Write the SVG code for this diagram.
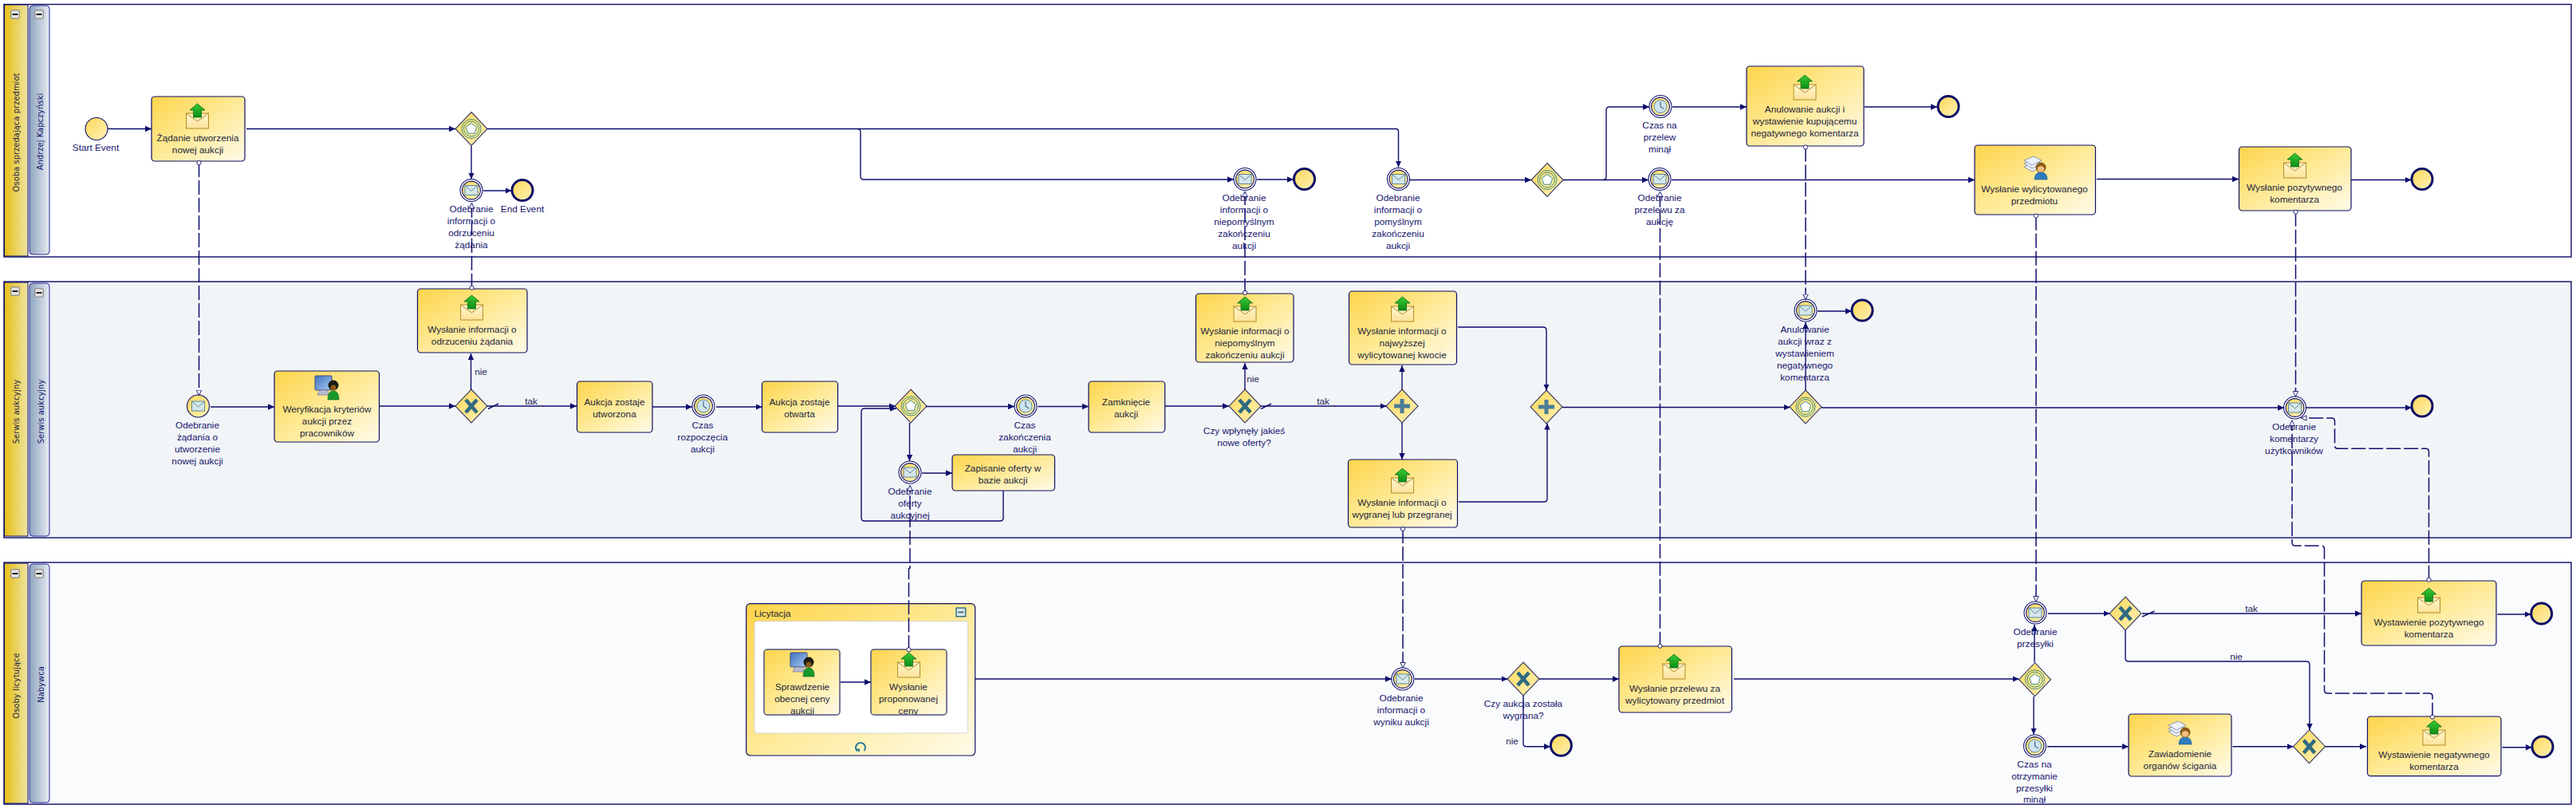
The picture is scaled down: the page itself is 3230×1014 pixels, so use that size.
<svg xmlns="http://www.w3.org/2000/svg" width="3230" height="1014" viewBox="0 0 3230 1014">
<style>
text{font-family:"Liberation Sans",Arial,sans-serif;font-size:11.8px;text-anchor:middle;dominant-baseline:central}
.t{fill:#24243c}.l{fill:#14146e}.f{fill:#24245a}
.h{font-family:"DejaVu Sans",Verdana,sans-serif;font-size:10px}
.pool{stroke:#0a0a66;stroke-width:1.4}
.ps{fill:url(#goldH);stroke:#0a0a66;stroke-width:1}
.ls{fill:url(#blueH);stroke:#2a2a9a;stroke-width:1}
.task{fill:url(#gold);stroke:#0f0f66;stroke-width:1.2}
.small{fill:url(#gold);stroke:#50507e;stroke-width:1.5}
.ev{fill:url(#gwf);stroke:#12126e;stroke-width:1.1}
.evo{fill:#fff;stroke:#12126e;stroke-width:1.1}
.end{fill:url(#gwf);stroke:#0c0c66;stroke-width:3}
.gw{fill:url(#gwf);stroke:#3c3c6c;stroke-width:1.1}
.sq{fill:none;stroke:#0e0e6e;stroke-width:1.4;marker-end:url(#arr)}
.sl{fill:none;stroke:#0e0e6e;stroke-width:1.4}
.ms{fill:none;stroke:#0e0e6e;stroke-width:1.5;stroke-dasharray:18 4;marker-start:url(#dot);marker-end:url(#tri)}
</style>
<defs>
<linearGradient id="gold" x1="0" y1="0" x2="1" y2="1"><stop offset="0" stop-color="#fdd44a"/><stop offset=".45" stop-color="#fee88f"/><stop offset="1" stop-color="#fffbea"/></linearGradient>
<linearGradient id="gwf" x1="0" y1="0" x2="1" y2="1"><stop offset="0" stop-color="#fdd858"/><stop offset="1" stop-color="#fff2b8"/></linearGradient>
<linearGradient id="goldH" x1="0" y1="0" x2="1" y2="0"><stop offset="0" stop-color="#e6bf14"/><stop offset="1" stop-color="#efe4a4"/></linearGradient>
<linearGradient id="blueH" x1="0" y1="0" x2="1" y2="0"><stop offset="0" stop-color="#8ea4bf"/><stop offset="1" stop-color="#e6ebf1"/></linearGradient>
<linearGradient id="env" x1="0" y1="0" x2="0" y2="1"><stop offset="0" stop-color="#fff6d0"/><stop offset="1" stop-color="#fde29a"/></linearGradient>
<linearGradient id="grn" x1="0" y1="0" x2="0" y2="1"><stop offset="0" stop-color="#39c939"/><stop offset="1" stop-color="#0c8f14"/></linearGradient>
<linearGradient id="scr" x1="0" y1="0" x2="1" y2="1"><stop offset="0" stop-color="#3f6fc0"/><stop offset="1" stop-color="#a9cdf2"/></linearGradient>
<marker id="arr" markerUnits="userSpaceOnUse" markerWidth="10" markerHeight="10" refX="8" refY="4.5" orient="auto"><path d="M0 0.8L8 4.5L0 8.2Z" fill="#0e0e6e"/></marker>
<marker id="tri" markerUnits="userSpaceOnUse" markerWidth="10" markerHeight="10" refX="7" refY="4" orient="auto"><path d="M0.5 0.8L7 4L0.5 7.2Z" fill="#fff" stroke="#0e0e6e" stroke-width=".9"/></marker>
<marker id="dot" markerUnits="userSpaceOnUse" markerWidth="8" markerHeight="8" refX="4" refY="4" orient="auto"><circle cx="4" cy="4" r="2.6" fill="#fff" stroke="#0e0e6e" stroke-width=".9"/></marker>
<g id="em"><circle r="14" class="evo"/><circle r="11.4" class="ev"/><rect x="-8" y="-6" width="16" height="12" fill="#d5e6ea" stroke="#5d8a98"/><path d="M-8-6L0 1L8-6" fill="none" stroke="#5d8a98"/></g>
<g id="et"><circle r="14" class="evo"/><circle r="11.4" class="ev"/><circle r="8" fill="#cfe3ef" stroke="#5d8a98"/><path d="M0-6V0L4 3" fill="none" stroke="#3f6f80" stroke-width="1.2"/></g>
<g id="ge"><path d="M0-21L20 0L0 21L-20 0Z" class="gw"/><circle r="12" fill="none" stroke="#3d8d80"/><circle r="9.5" fill="none" stroke="#3d8d80"/><path d="M0-7L6.7-2.2L4.1 5.7H-4.1L-6.7-2.2Z" fill="#fff" stroke="#3d8d96"/></g>
<g id="gx"><path d="M0-21L20 0L0 21L-20 0Z" class="gw"/><path d="M-7-8L7 8M7-8L-7 8" stroke="#2f6a80" stroke-width="4.6" fill="none"/></g>
<g id="gp"><path d="M0-21L20 0L0 21L-20 0Z" class="gw"/><path d="M-10 0H10M0-9V9" stroke="#4a7d96" stroke-width="5" fill="none"/></g>
<g id="is"><rect x="-14" y="0" width="28" height="19" fill="url(#env)" stroke="#b48c28"/><path d="M-14 0L0 10L14 0" fill="none" stroke="#b48c28"/><path d="M0-12L9.5-4H5V5H-5V-4H-9.5Z" fill="url(#grn)" stroke="#0b6a10" stroke-width=".8"/></g>
<g id="ih"><rect x="-15" y="0" width="21" height="18" rx="1" fill="url(#scr)" stroke="#3c4c74"/><path d="M-9 18H0L3 24H-12Z" fill="#b8bcd0" stroke="#70708c" stroke-width=".7"/><circle cx="8" cy="12" r="6.5" fill="#1c1c14"/><ellipse cx="8" cy="15" rx="3.4" ry="3.6" fill="#8a5a18"/><path d="M1 30Q1 19 8 19Q15 19 15 30Z" fill="#169a2c" stroke="#0b5a18" stroke-width=".6"/></g>
<g id="iu"><g fill="#eef1fa" stroke="#7080a8" stroke-width=".8"><path d="M-14 14L-2 9L8 14L-4 20Z"/><path d="M-14 10L-2 5L8 10L-4 16Z"/><path d="M-14 6L-2 1L8 6L-4 12Z"/></g><circle cx="7" cy="15" r="6.5" fill="#8a5a18"/><ellipse cx="7" cy="17" rx="4.4" ry="4" fill="#f0bc7e"/><path d="M-1 30Q-1 21 7 21Q15 21 15 30Z" fill="#2d7cc2" stroke="#14507e" stroke-width=".6"/></g>
<g id="mn"><rect x="-5.2" y="-5.2" width="10.4" height="10.4" rx="1" fill="#e4e4e4" stroke="#777"/><rect x="-3.4" y="-1" width="6.8" height="2" fill="#222"/></g>
<clipPath id="cs"><rect x="950" y="814" width="250" height="82"/></clipPath>
</defs>

<g id="pool-sprzedajaca">
<rect x="5" y="5.5" width="3219" height="316.5" fill="#fff" class="pool"/>
<rect x="5.500" y="6" width="29.500" height="315" class="ps"/>
<rect x="37" y="7" width="25" height="312" rx="4" class="ls"/>
<use href="#mn" x="19" y="18"/><use href="#mn" x="49" y="18"/>
<text class="h l" transform="translate(20 166) rotate(-90)" style="fill:#24243c">Osoba sprzedająca przedmiot</text>
<text class="h l" transform="translate(50 165) rotate(-90)">Andrzej Kapczyński</text>
</g>
<g id="pool-serwis">
<rect x="5" y="353" width="3219" height="321" fill="#f2f5f7" class="pool"/>
<rect x="5.500" y="354" width="29.500" height="318" class="ps"/>
<rect x="37" y="355" width="25" height="317" rx="4" class="ls"/>
<use href="#mn" x="19" y="365"/><use href="#mn" x="49" y="367"/>
<text class="h l" transform="translate(20 516) rotate(-90)" style="fill:#24243c">Serwis aukcyjny</text>
<text class="h l" transform="translate(51 516) rotate(-90)">Serwis aukcyjny</text>
</g>
<g id="pool-licytujace">
<rect x="5" y="705" width="3219" height="303" fill="#fafbfc" class="pool"/>
<rect x="5.500" y="706" width="29.500" height="301" class="ps"/>
<rect x="37" y="707" width="25" height="299" rx="4" class="ls"/>
<use href="#mn" x="19" y="719"/><use href="#mn" x="49" y="719"/>
<text class="h l" transform="translate(20.500 859.500) rotate(-90)" style="fill:#24243c">Osoby licytujące</text>
<text class="h l" transform="translate(51 858) rotate(-90)">Nabywca</text>
</g>

<g id="start"><circle cx="121" cy="161.500" r="14" class="ev"/><text class="l" x="120" y="185">Start Event</text></g>
<g id="t-zadanie"><rect x="190" y="121" width="117" height="81" rx="4" class="task"/><use href="#is" x="247.500" y="142"/><text class="t"><tspan x="248" y="173">Żądanie utworzenia</tspan><tspan x="248" y="188">nowej aukcji</tspan></text></g>
<g id="g-1"><use href="#ge" x="591" y="161.500"/></g>
<g id="e-odrz"><use href="#em" x="591" y="238.500"/><text class="l"><tspan x="591" y="262">Odebranie</tspan><tspan x="591" y="277">informacji o</tspan><tspan x="591" y="292">odrzuceniu</tspan><tspan x="591" y="307">żądania</tspan></text></g>
<g id="end-1"><circle cx="655" cy="238.500" r="13" class="end"/><text class="l" x="655" y="262">End Event</text></g>
<g id="e-niepom"><use href="#em" x="1561" y="224.500"/><text class="l"><tspan x="1560" y="248">Odebranie</tspan><tspan x="1560" y="263">informacji o</tspan><tspan x="1560" y="278">niepomyślnym</tspan><tspan x="1560" y="293">zakończeniu</tspan><tspan x="1560" y="308">aukcji</tspan></text></g>
<g id="end-2"><circle cx="1635.500" cy="224.500" r="13" class="end"/></g>
<g id="e-pom"><use href="#em" x="1753.500" y="224.500"/><text class="l"><tspan x="1753" y="248">Odebranie</tspan><tspan x="1753" y="263">informacji o</tspan><tspan x="1753" y="278">pomyślnym</tspan><tspan x="1753" y="293">zakończeniu</tspan><tspan x="1753" y="308">aukcji</tspan></text></g>
<g id="g-2"><use href="#ge" x="1940" y="225.500"/></g>
<g id="e-czas-przelew"><use href="#et" x="2082" y="133.500"/><text class="l"><tspan x="2081" y="157">Czas na</tspan><tspan x="2081" y="172">przelew</tspan><tspan x="2081" y="187">minął</tspan></text></g>
<g id="e-przelew"><use href="#em" x="2081" y="224.500"/><text class="l"><tspan x="2081" y="248">Odebranie</tspan><tspan x="2081" y="263">przelewu za</tspan><tspan x="2081" y="278">aukcję</tspan></text></g>
<g id="t-anul"><rect x="2190" y="83" width="147" height="100" rx="4" class="task"/><use href="#is" x="2263" y="106"/><text class="t"><tspan x="2263" y="137">Anulowanie aukcji i</tspan><tspan x="2263" y="152">wystawienie kupującemu</tspan><tspan x="2263" y="167">negatywnego komentarza</tspan></text></g>
<g id="end-3"><circle cx="2443" cy="133.500" r="13" class="end"/></g>
<g id="t-wysl-przed"><rect x="2476" y="182" width="151.500" height="87" rx="4" class="task"/><use href="#iu" x="2552" y="195"/><text class="t"><tspan x="2551" y="237">Wysłanie wylicytowanego</tspan><tspan x="2551" y="252">przedmiotu</tspan></text></g>
<g id="t-wysl-poz"><rect x="2807.500" y="184" width="140.500" height="80" rx="4" class="task"/><use href="#is" x="2877.500" y="204"/><text class="t"><tspan x="2877" y="235">Wysłanie pozytywnego</tspan><tspan x="2877" y="250">komentarza</tspan></text></g>
<g id="end-4"><circle cx="3037" cy="224.500" r="13" class="end"/></g>

<g id="e-zadanie"><circle cx="248.500" cy="509" r="14" class="ev"/><rect x="240.500" y="503" width="16" height="12" fill="#d5e6ea" stroke="#5d8a98"/><path d="M240.500 503L248.500 510L256.500 503" fill="none" stroke="#5d8a98"/><text class="l"><tspan x="247.500" y="533">Odebranie</tspan><tspan x="247.500" y="548">żądania o</tspan><tspan x="247.500" y="563">utworzenie</tspan><tspan x="247.500" y="578">nowej aukcji</tspan></text></g>
<g id="t-wer"><rect x="344" y="465" width="131.500" height="89" rx="4" class="task"/><use href="#ih" x="410" y="471"/><text class="t"><tspan x="410" y="513">Weryfikacja kryteriów</tspan><tspan x="410" y="528">aukcji przez</tspan><tspan x="410" y="543">pracowników</tspan></text></g>
<g id="g-wer"><use href="#gx" x="591" y="509"/></g>
<g id="t-odrz"><rect x="523.500" y="362" width="137.500" height="80" rx="4" class="task"/><use href="#is" x="591.500" y="382"/><text class="t"><tspan x="592" y="413">Wysłanie informacji o</tspan><tspan x="592" y="428">odrzuceniu żądania</tspan></text></g>
<g id="t-utw"><rect x="723.500" y="478" width="94.500" height="64" rx="4" class="task"/><text class="t"><tspan x="770.500" y="504">Aukcja zostaje</tspan><tspan x="770.500" y="519">utworzona</tspan></text></g>
<g id="e-rozp"><use href="#et" x="882" y="509"/><text class="l"><tspan x="881" y="533">Czas</tspan><tspan x="881" y="548">rozpoczęcia</tspan><tspan x="881" y="563">aukcji</tspan></text></g>
<g id="t-otw"><rect x="955.500" y="478" width="95" height="64" rx="4" class="task"/><text class="t"><tspan x="1002.500" y="504">Aukcja zostaje</tspan><tspan x="1002.500" y="519">otwarta</tspan></text></g>
<g id="g-3"><use href="#ge" x="1142" y="509"/></g>
<g id="e-oferta"><use href="#em" x="1141" y="592"/><text class="l"><tspan x="1141" y="616">Odebranie</tspan><tspan x="1141" y="631">oferty</tspan><tspan x="1141" y="646">aukcyjnej</tspan></text></g>
<g id="t-zapis"><rect x="1194" y="570" width="128.500" height="45" rx="4" class="task"/><text class="t"><tspan x="1257.500" y="587">Zapisanie oferty w</tspan><tspan x="1257.500" y="602">bazie aukcji</tspan></text></g>
<g id="e-zak"><use href="#et" x="1286" y="509"/><text class="l"><tspan x="1285" y="533">Czas</tspan><tspan x="1285" y="548">zakończenia</tspan><tspan x="1285" y="563">aukcji</tspan></text></g>
<g id="t-zamk"><rect x="1365" y="478" width="95.700" height="64" rx="4" class="task"/><text class="t"><tspan x="1412" y="504">Zamknięcie</tspan><tspan x="1412" y="519">aukcji</tspan></text></g>
<g id="g-4"><use href="#gx" x="1561" y="509"/><text class="l"><tspan x="1560" y="540">Czy wpłynęły jakieś</tspan><tspan x="1560" y="555">nowe oferty?</tspan></text></g>
<g id="t-niepom"><rect x="1499.500" y="368" width="122.500" height="86" rx="4" class="task"/><use href="#is" x="1561" y="384"/><text class="t"><tspan x="1561" y="415">Wysłanie informacji o</tspan><tspan x="1561" y="430">niepomyślnym</tspan><tspan x="1561" y="445">zakończeniu aukcji</tspan></text></g>
<g id="g-5"><use href="#gp" x="1758" y="509"/></g>
<g id="t-najw"><rect x="1691.500" y="365" width="135" height="92" rx="4" class="task"/><use href="#is" x="1758.500" y="384"/><text class="t"><tspan x="1758" y="415">Wysłanie informacji o</tspan><tspan x="1758" y="430">najwyższej</tspan><tspan x="1758" y="445">wylicytowanej kwocie</tspan></text></g>
<g id="t-wygr"><rect x="1690.500" y="576" width="137" height="85" rx="4" class="task"/><use href="#is" x="1758.500" y="599"/><text class="t"><tspan x="1758" y="630">Wysłanie informacji o</tspan><tspan x="1758" y="645">wygranej lub przegranej</tspan></text></g>
<g id="g-6"><use href="#gp" x="1939" y="510"/></g>
<g id="g-7"><use href="#ge" x="2264" y="510"/></g>
<g id="e-anul"><use href="#em" x="2264" y="389"/><text class="l"><tspan x="2263" y="413">Anulowanie</tspan><tspan x="2263" y="428">aukcji wraz z</tspan><tspan x="2263" y="443">wystawieniem</tspan><tspan x="2263" y="458">negatywnego</tspan><tspan x="2263" y="473">komentarza</tspan></text></g>
<g id="end-5"><circle cx="2335" cy="389" r="13" class="end"/></g>
<g id="e-kom"><use href="#em" x="2877.500" y="511"/><text class="l"><tspan x="2876.500" y="535">Odebranie</tspan><tspan x="2876.500" y="550">komentarzy</tspan><tspan x="2876.500" y="565">użytkowników</tspan></text></g>
<g id="end-6"><circle cx="3037" cy="509" r="13" class="end"/></g>

<g id="sub-licytacja">
<rect x="935.700" y="756.700" width="287" height="190.300" rx="5" class="task"/>
<rect x="946" y="778.700" width="267.700" height="140.300" rx="3" fill="#fff" stroke="#d4d4c8"/>
<text class="t" x="945.700" y="769" style="text-anchor:start">Licytacja</text>
<rect x="1199" y="762" width="11.700" height="10.700" fill="#d8e4e8" stroke="#2f6a80" stroke-width="1.4"/><rect x="1201.500" y="766.500" width="6.700" height="1.800" fill="#2f6a80"/>
<path d="M1075 941.500A6 6 0 1 1 1083.500 941" fill="none" stroke="#2f7c96" stroke-width="2"/><path d="M1072 938.500H1078V943Z" fill="#2f7c96"/>
</g>
<g id="t-spr"><rect x="958" y="814" width="95" height="82" rx="4" class="small"/><use href="#ih" x="1006" y="818"/><text class="t" clip-path="url(#cs)"><tspan x="1006" y="860.700">Sprawdzenie</tspan><tspan x="1006" y="876">obecnej ceny</tspan><tspan x="1006" y="891">aukcji</tspan></text></g>
<g id="t-prop"><rect x="1092" y="814" width="95" height="82" rx="4" class="small"/><use href="#is" x="1139.500" y="830"/><text class="t" clip-path="url(#cs)"><tspan x="1139" y="860.700">Wysłanie</tspan><tspan x="1139" y="876">proponowanej</tspan><tspan x="1139" y="891">ceny</tspan></text></g>
<g id="e-wynik"><use href="#em" x="1758.800" y="851"/><text class="l"><tspan x="1757" y="875">Odebranie</tspan><tspan x="1757" y="890">informacji o</tspan><tspan x="1757" y="905">wyniku aukcji</tspan></text></g>
<g id="g-8"><use href="#gx" x="1910" y="851"/><text class="l"><tspan x="1910" y="882">Czy aukcja została</tspan><tspan x="1910" y="897">wygrana?</tspan></text></g>
<g id="end-7"><circle cx="1957.400" cy="934.300" r="13" class="end"/></g>
<g id="t-przelew"><rect x="2030" y="810" width="141.500" height="83" rx="4" class="task"/><use href="#is" x="2099" y="832"/><text class="t"><tspan x="2100" y="863">Wysłanie przelewu za</tspan><tspan x="2100" y="878">wylicytowany przedmiot</tspan></text></g>
<g id="g-9"><use href="#ge" x="2551.500" y="851.700"/></g>
<g id="e-przes"><use href="#em" x="2552" y="768"/><text class="l"><tspan x="2552" y="792">Odebranie</tspan><tspan x="2552" y="807">przesyłki</tspan></text></g>
<g id="e-czas-przes"><use href="#et" x="2551.500" y="935"/><text class="l"><tspan x="2551" y="958">Czas na</tspan><tspan x="2551" y="973">otrzymanie</tspan><tspan x="2551" y="988">przesyłki</tspan><tspan x="2551" y="1002">minął</tspan></text></g>
<g id="g-10"><use href="#gx" x="2665" y="769"/></g>
<g id="t-wyst-poz"><rect x="2961" y="728" width="169" height="81" rx="4" class="task"/><use href="#is" x="3045.500" y="749"/><text class="t"><tspan x="3045.500" y="780">Wystawienie pozytywnego</tspan><tspan x="3045.500" y="795">komentarza</tspan></text></g>
<g id="end-8"><circle cx="3186.700" cy="769" r="13" class="end"/></g>
<g id="t-zaw"><rect x="2669" y="895" width="129" height="78" rx="4" class="task"/><use href="#iu" x="2733" y="903"/><text class="t"><tspan x="2733.500" y="945">Zawiadomienie</tspan><tspan x="2733.500" y="960">organów ścigania</tspan></text></g>
<g id="g-11"><use href="#gx" x="2895.500" y="935.700"/></g>
<g id="t-wyst-neg"><rect x="2968.500" y="898" width="167.500" height="74.700" rx="4" class="task"/><use href="#is" x="3052" y="915"/><text class="t"><tspan x="3052" y="946">Wystawienie negatywnego</tspan><tspan x="3052" y="961">komentarza</tspan></text></g>
<g id="end-9"><circle cx="3188" cy="936" r="13" class="end"/></g>

<g id="connectors">
<path class="sq" d="M135 161.500H190"/>
<path class="sq" d="M309 161.500H571"/>
<path class="sq" d="M611 161.500H1750Q1753.500 161.500 1753.500 165V209.500"/>
<path class="sq" d="M1075 161.500Q1079 161.500 1079 165.500V221Q1079 225 1083 225H1547"/>
<path class="sq" d="M591 183V224.500"/>
<path class="sq" d="M606 239H641.500"/>
<path class="sq" d="M1576 225H1622"/>
<path class="sq" d="M1768 225.500H1920"/>
<path class="sq" d="M1960 225.500H2067"/>
<path class="sq" d="M2010 225.500Q2014 225.500 2014 221.500V138Q2014 134 2018 134H2068"/>
<path class="sq" d="M2097 134H2190"/>
<path class="sq" d="M2338 134H2429"/>
<path class="sq" d="M2096 225.500H2476"/>
<path class="sq" d="M2629 224.500H2807"/>
<path class="sq" d="M2948 225.500H3023.500"/>
<path class="sq" d="M264 510H344"/>
<path class="sq" d="M476 509H571"/>
<path class="sq" d="M590.500 489V443"/>
<path class="sq" d="M611 509H723"/>
<path class="sl" d="M612 512.500L625 506"/>
<path class="sq" d="M818 510H868"/>
<path class="sq" d="M898 510H955.500"/>
<path class="sq" d="M1051 509H1122.500"/>
<path class="sq" d="M1258 615V649Q1258 653 1254 653H1084Q1080 653 1080 649V516Q1080 512 1084 512H1124"/>
<path class="sq" d="M1140.500 530V578"/>
<path class="sq" d="M1156 593H1194"/>
<path class="sq" d="M1161 509.500H1272"/>
<path class="sq" d="M1301.500 509.500H1365"/>
<path class="sq" d="M1461 509H1541"/>
<path class="sq" d="M1561 488V455"/>
<path class="sq" d="M1581 509H1738.500"/>
<path class="sl" d="M1581 512.500L1594 506"/>
<path class="sq" d="M1758 488V458"/>
<path class="sq" d="M1758 530V576"/>
<path class="sq" d="M1828 410H1935Q1939 410 1939 414V489.500"/>
<path class="sq" d="M1829 629H1936Q1940 629 1940 625V530.500"/>
<path class="sq" d="M1959 510.500H2244.500"/>
<path class="sq" d="M2264 489V404"/>
<path class="sq" d="M2279 390H2322"/>
<path class="sq" d="M2284 511H2864"/>
<path class="sq" d="M2892 511H3024"/>
<path class="sq" d="M1223 851H1745"/>
<path class="sq" d="M1773.700 851H1890.500"/>
<path class="sq" d="M1930 851H2030"/>
<path class="sq" d="M1910 872V931.700Q1910 935.700 1914 935.700H1944"/>
<path class="sq" d="M2174 851H2531.500"/>
<path class="sq" d="M2551 830V783"/>
<path class="sq" d="M2568 769H2645.500"/>
<path class="sq" d="M2686 769H2961"/>
<path class="sl" d="M2686 773L2701.500 766"/>
<path class="sq" d="M2665 790V825Q2665 829 2669 829H2892Q2896 829 2896 833V915"/>
<path class="sq" d="M2550 873V920.500"/>
<path class="sq" d="M2567 935.700H2669"/>
<path class="sq" d="M2799.500 935.700H2875.500"/>
<path class="sq" d="M2915.700 935.700H2967"/>
<path class="sq" d="M3131.500 770H3173.500"/>
<path class="sq" d="M3137.500 936.700H3175"/>
<path class="sq" d="M1053.700 855H1092"/>

<path class="ms" d="M249.500 204V495.500"/>
<path class="ms" d="M591.500 360.700V254.500"/>
<path class="ms" d="M1561 367V240"/>
<path class="ms" d="M1139.500 814.300V713L1141 712V608.500"/>
<path class="ms" d="M2081.500 809.700V240"/>
<path class="ms" d="M2264 184.500V375.500"/>
<path class="ms" d="M2553 270.700V754"/>
<path class="ms" d="M2878.500 265.700V497"/>
<path class="ms" d="M1759 663V837"/>
<path class="ms" d="M3045.500 726.700V566.300Q3045.500 562.300 3041.500 562.300H2931.500Q2927.500 562.300 2927.500 558.300V528Q2927.500 524 2923.500 524H2885.500"/>
<path class="ms" d="M3050 898.700V873Q3050 869 3046 869H2918.500Q2914.500 869 2914.500 865V688Q2914.500 684 2910.500 684H2878Q2874 684 2874 680V527"/>
</g>

<g id="labels">
<text class="f" x="603" y="466">nie</text>
<text class="f" x="666" y="503">tak</text>
<text class="f" x="1571" y="475">nie</text>
<text class="f" x="1659" y="503">tak</text>
<text class="f" x="1896" y="929">nie</text>
<text class="f" x="2823" y="763">tak</text>
<text class="f" x="2804" y="823">nie</text>
</g>
</svg>
